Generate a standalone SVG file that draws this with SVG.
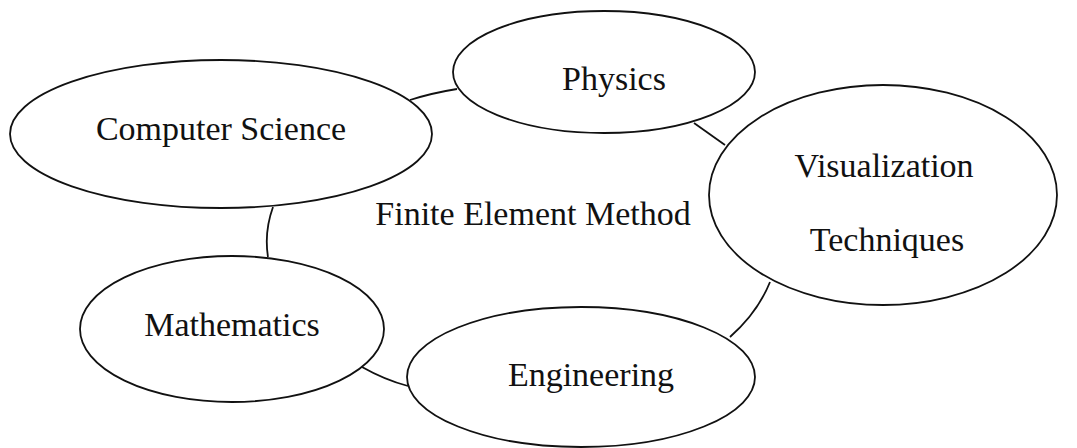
<svg xmlns="http://www.w3.org/2000/svg" width="1077" height="448" viewBox="0 0 1077 448">
<style>
.n ellipse{fill:#fff;stroke:#111;stroke-width:1.8}
text{font-family:"Liberation Serif","Times New Roman",serif;font-size:34px;fill:#111;text-anchor:middle}
.c path{fill:none;stroke:#111;stroke-width:1.8}
</style>
<rect width="1077" height="448" fill="#fff"/>
<g id="connectors" class="c">
<path d="M410,100 Q432,93 457,89"/>
<path d="M694,123 L725,145"/>
<path d="M273,207 Q264,232 268,257"/>
<path d="M362,367 Q385,380 408,386"/>
<path d="M770,282 Q758,312 730,337"/>
</g>
<g id="computer-science" class="n"><ellipse cx="221" cy="134" rx="211" ry="74"/><text x="221" y="140">Computer Science</text></g>
<g id="physics" class="n"><ellipse cx="604" cy="72" rx="151" ry="61"/><text x="614" y="90">Physics</text></g>
<g id="visualization" class="n"><ellipse cx="883" cy="195" rx="174" ry="110"/><text x="884" y="177">Visualization</text><text x="887" y="251">Techniques</text></g>
<g id="mathematics" class="n"><ellipse cx="232" cy="329" rx="152" ry="73"/><text x="232" y="336">Mathematics</text></g>
<g id="engineering" class="n"><ellipse cx="581" cy="377" rx="174" ry="70"/><text x="591" y="386">Engineering</text></g>
<g id="fem"><text x="533" y="225">Finite Element Method</text></g>
</svg>
